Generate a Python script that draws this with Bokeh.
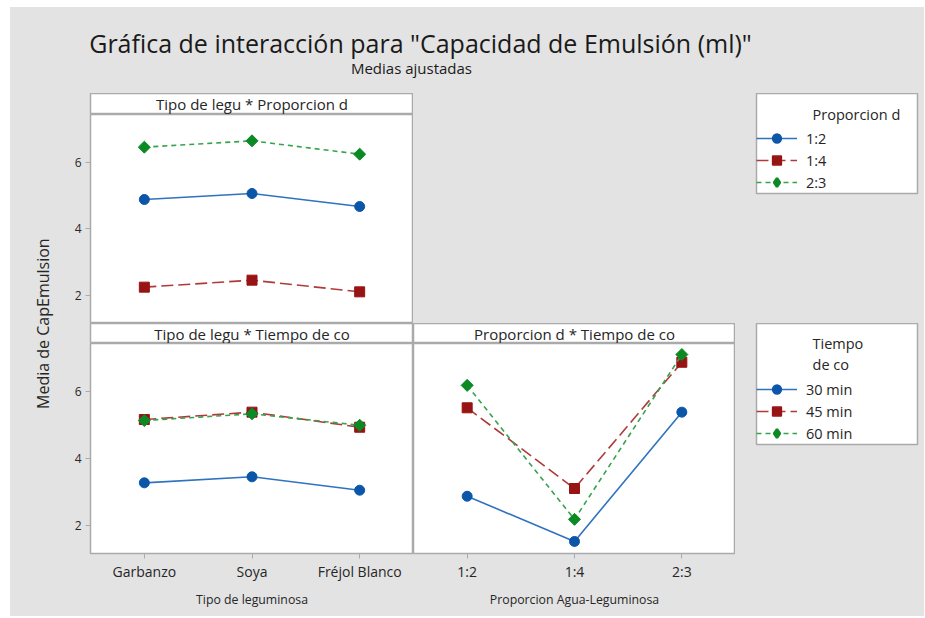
import numpy as np
from bokeh.plotting import figure
from bokeh.models import (Range1d, FactorRange, FixedTicker, Label, Legend,
                          LegendItem, ColumnDataSource, Spacer)
from bokeh.layouts import row, column
from bokeh.embed import file_html
from bokeh.resources import INLINE
from bokeh.core.validation import silence
from bokeh.core.validation.warnings import MISSING_RENDERERS

silence(MISSING_RENDERERS, True)

# ---------------- data ----------------
tipos = ["Garbanzo", "Soya", "Fréjol Blanco"]
proporciones = ["1:2", "1:4", "2:3"]
tiempos = ["30 min", "45 min", "60 min"]

# Tipo de leguminosa * Proporcion (values over tipos)
tp_12 = [4.88, 5.06, 4.67]
tp_14 = [2.25, 2.46, 2.11]
tp_23 = [6.45, 6.64, 6.24]
# Tipo de leguminosa * Tiempo (values over tipos)
tt_30 = [3.27, 3.45, 3.05]
tt_45 = [5.16, 5.38, 4.93]
tt_60 = [5.13, 5.33, 4.99]
# Proporcion * Tiempo (values over proporciones)
pt_30 = [2.87, 1.52, 5.38]
pt_45 = [5.51, 3.10, 6.87]
pt_60 = [6.18, 2.18, 7.10]

y_ticks = [2, 4, 6]
y_start, y_end = 1.16, 7.43

title_text = 'Gráfica de interacción para "Capacidad de Emulsión (ml)"'
subtitle_text = "Medias ajustadas"
y_label = "Media de CapEmulsion"
x_label_left = "Tipo de leguminosa"
x_label_right = "Proporcion Agua-Leguminosa"
strip_tl = "Tipo de legu * Proporcion d"
strip_bl = "Tipo de legu * Tiempo de co"
strip_br = "Proporcion d * Tiempo de co"
legend1_title = ["Proporcion d"]
legend2_title = ["Tiempo", "de co"]

# ---------------- styles ----------------
FONT = "Open Sans"
BG = "#e3e3e3"
FRAME = "#aaaaaa"
TXT = "#262626"
STYLES = [
    dict(marker="circle", size=10, angle=0.0, fill="#0b56a8", line="#2f72c0",
         dash="solid", leg_marker="circle", leg_lw=1.5),
    dict(marker="square", size=10, angle=0.0, fill="#981313", line="#b03a3a",
         dash="12 5", leg_marker="square", leg_lw=1.5),
    dict(marker="square", size=8.5, angle=np.pi / 4, fill="#0b8a24", line="#35a24c",
         dash="5 4", leg_marker="diamond", leg_lw=2.5),
]


def base_fig(width, height, **kw):
    return figure(width=width, height=height, output_backend="svg", toolbar_location=None,
                  min_border=0, border_fill_color=BG, **kw)


def add_series(p, factors, series, legend_copy=False):
    out = []
    for vals, st in zip(series, STYLES):
        src = ColumnDataSource(dict(x=factors, y=vals))
        lr = p.line("x", "y", source=src, line_color=st["line"], line_width=1.6,
                    line_dash=st["dash"], visible=not legend_copy)
        if legend_copy:
            sr = p.scatter("x", "y", source=src, marker=st["leg_marker"], size=st["size"],
                           fill_color=st["fill"], line_color=st["fill"],
                           line_width=st["leg_lw"], visible=False)
        else:
            sr = p.scatter("x", "y", source=src, marker=st["marker"], size=st["size"],
                           angle=st["angle"], fill_color=st["fill"],
                           line_color=st["fill"])
        out.append([lr, sr])
    return out


def panel(factors, series, width, height, left, bottom, show_y, xlabel=None):
    p = base_fig(width, height,
                 x_range=FactorRange(*factors), y_range=Range1d(y_start, y_end),
                 min_border_left=left, min_border_bottom=bottom,
                 x_axis_location="below" if xlabel else None,
                 y_axis_location="left" if show_y else None,
                 background_fill_color="white", outline_line_color=FRAME,
                 outline_line_width=1.5)
    for g in p.xgrid + p.ygrid:
        g.visible = False
    if show_y:
        ax = p.yaxis[0]
        ax.ticker = FixedTicker(ticks=y_ticks)
        ax.axis_line_color = None
        ax.major_tick_line_color = FRAME
        ax.major_tick_out = 5
        ax.major_tick_in = 0
        ax.minor_tick_line_color = None
        ax.major_label_standoff = 4
        ax.major_label_text_font = FONT
        ax.major_label_text_font_size = "12px"
        ax.major_label_text_color = TXT
    if xlabel:
        ax = p.xaxis[0]
        ax.axis_line_color = None
        ax.major_tick_line_color = FRAME
        ax.major_tick_out = 5
        ax.major_tick_in = 0
        ax.major_label_standoff = 3
        ax.major_label_text_font = FONT
        ax.major_label_text_font_size = "14px"
        ax.major_label_text_color = TXT
        ax.axis_label = xlabel
        ax.axis_label_standoff = 7
        ax.axis_label_text_font = FONT
        ax.axis_label_text_font_size = "12.3px"
        ax.axis_label_text_font_style = "normal"
        ax.axis_label_text_color = TXT
    add_series(p, factors, series)
    return p


def blank(width, height, x_range=None, **kw):
    p = base_fig(width, height, x_range=x_range or Range1d(0, 1), y_range=Range1d(0, 1),
                 x_axis_location=None, y_axis_location=None, **kw)
    for g in p.xgrid + p.ygrid:
        g.visible = False
    return p


def strip(text, width, height, left):
    p = blank(width, height, min_border_left=left,
              background_fill_color="white", outline_line_color=FRAME,
              outline_line_width=1.5)
    p.add_layout(Label(x=0.5, y=0.5, text=text, text_align="center",
                       text_baseline="middle", text_font=FONT,
                       text_font_size="15px", text_color=TXT))
    return p


def legend_fig(factors, labels, series, height, frame_bottom, titles, title_ys):
    # the legend box is this figure's frame; hidden copies of the series feed the legend
    p = blank(189, height, x_range=FactorRange(*factors),
              min_border_left=21, min_border_right=7, min_border_bottom=frame_bottom,
              background_fill_color="white", outline_line_color=FRAME,
              outline_line_width=1.5)
    rends = add_series(p, factors, series, legend_copy=True)
    items = [LegendItem(label=lab, renderers=r) for lab, r in zip(labels, rends)]
    leg = Legend(items=items, location="bottom_left", margin=0, padding=5, spacing=0,
                 glyph_width=41, glyph_height=22, label_height=22, label_standoff=9,
                 border_line_color=None, background_fill_alpha=0,
                 label_text_font=FONT, label_text_font_size="14.5px",
                 label_text_color=TXT)
    p.add_layout(leg)
    n = len(factors)
    for text, ty in zip(titles, title_ys):
        p.add_layout(Label(x=0.348 * n, y=ty, text=text, text_align="left",
                           text_baseline="middle", text_font=FONT,
                           text_font_size="14.5px", text_color=TXT))
    return p


# ---------------- header ----------------
header = blank(914, 86, background_fill_color=BG, outline_line_color=None)
header.add_layout(Label(x=0.4486, y=0.593, text=title_text, text_align="center",
                        text_baseline="middle", text_font=FONT,
                        text_font_size="25px", text_color="#1a1a1a"))
header.add_layout(Label(x=0.4387, y=0.291, text=subtitle_text, text_align="center",
                        text_baseline="middle", text_font=FONT,
                        text_font_size="15px", text_color="#1a1a1a"))

# ---------------- y label ----------------
ylab = blank(45, 523, background_fill_color=BG, outline_line_color=None)
ylab.add_layout(Label(x=0.72, y=0.56, text=y_label, angle=np.pi / 2,
                      text_align="center", text_baseline="middle", text_font=FONT,
                      text_font_size="16px", text_color=TXT))

# ---------------- panels ----------------
tl = panel(tipos, [tp_12, tp_14, tp_23], 358, 209, 35, 0, True)
bl = panel(tipos, [tt_30, tt_45, tt_60], 358, 273, 35, 63, True, x_label_left)
br = panel(proporciones, [pt_30, pt_45, pt_60], 322, 273, 0, 63, False, x_label_right)

left_col = column(strip(strip_tl, 358, 21, 35), tl, strip(strip_bl, 358, 20, 35), bl,
                  spacing=0)
right_col = column(blank(322, 230, background_fill_color=BG, outline_line_color=None),
                   strip(strip_br, 322, 20, 0), br, spacing=0)

leg1 = legend_fig(tipos, proporciones, [tp_12, tp_14, tp_23], 230, 130,
                  legend1_title, [0.79])
leg2 = legend_fig(tipos, tiempos, [tt_30, tt_45, tt_60], 293, 172,
                  legend2_title, [0.832, 0.659])
legend_col = column(leg1, leg2, spacing=0)

body = row(ylab, left_col, right_col, legend_col, spacing=0,
           styles={"background-color": BG})
content = column(header, body, spacing=0, styles={"background-color": BG})
page = column(Spacer(width=10, height=7),
              row(Spacer(width=10, height=10), content, spacing=0), spacing=0)

open("out.html", "w").write(file_html(page, INLINE))
